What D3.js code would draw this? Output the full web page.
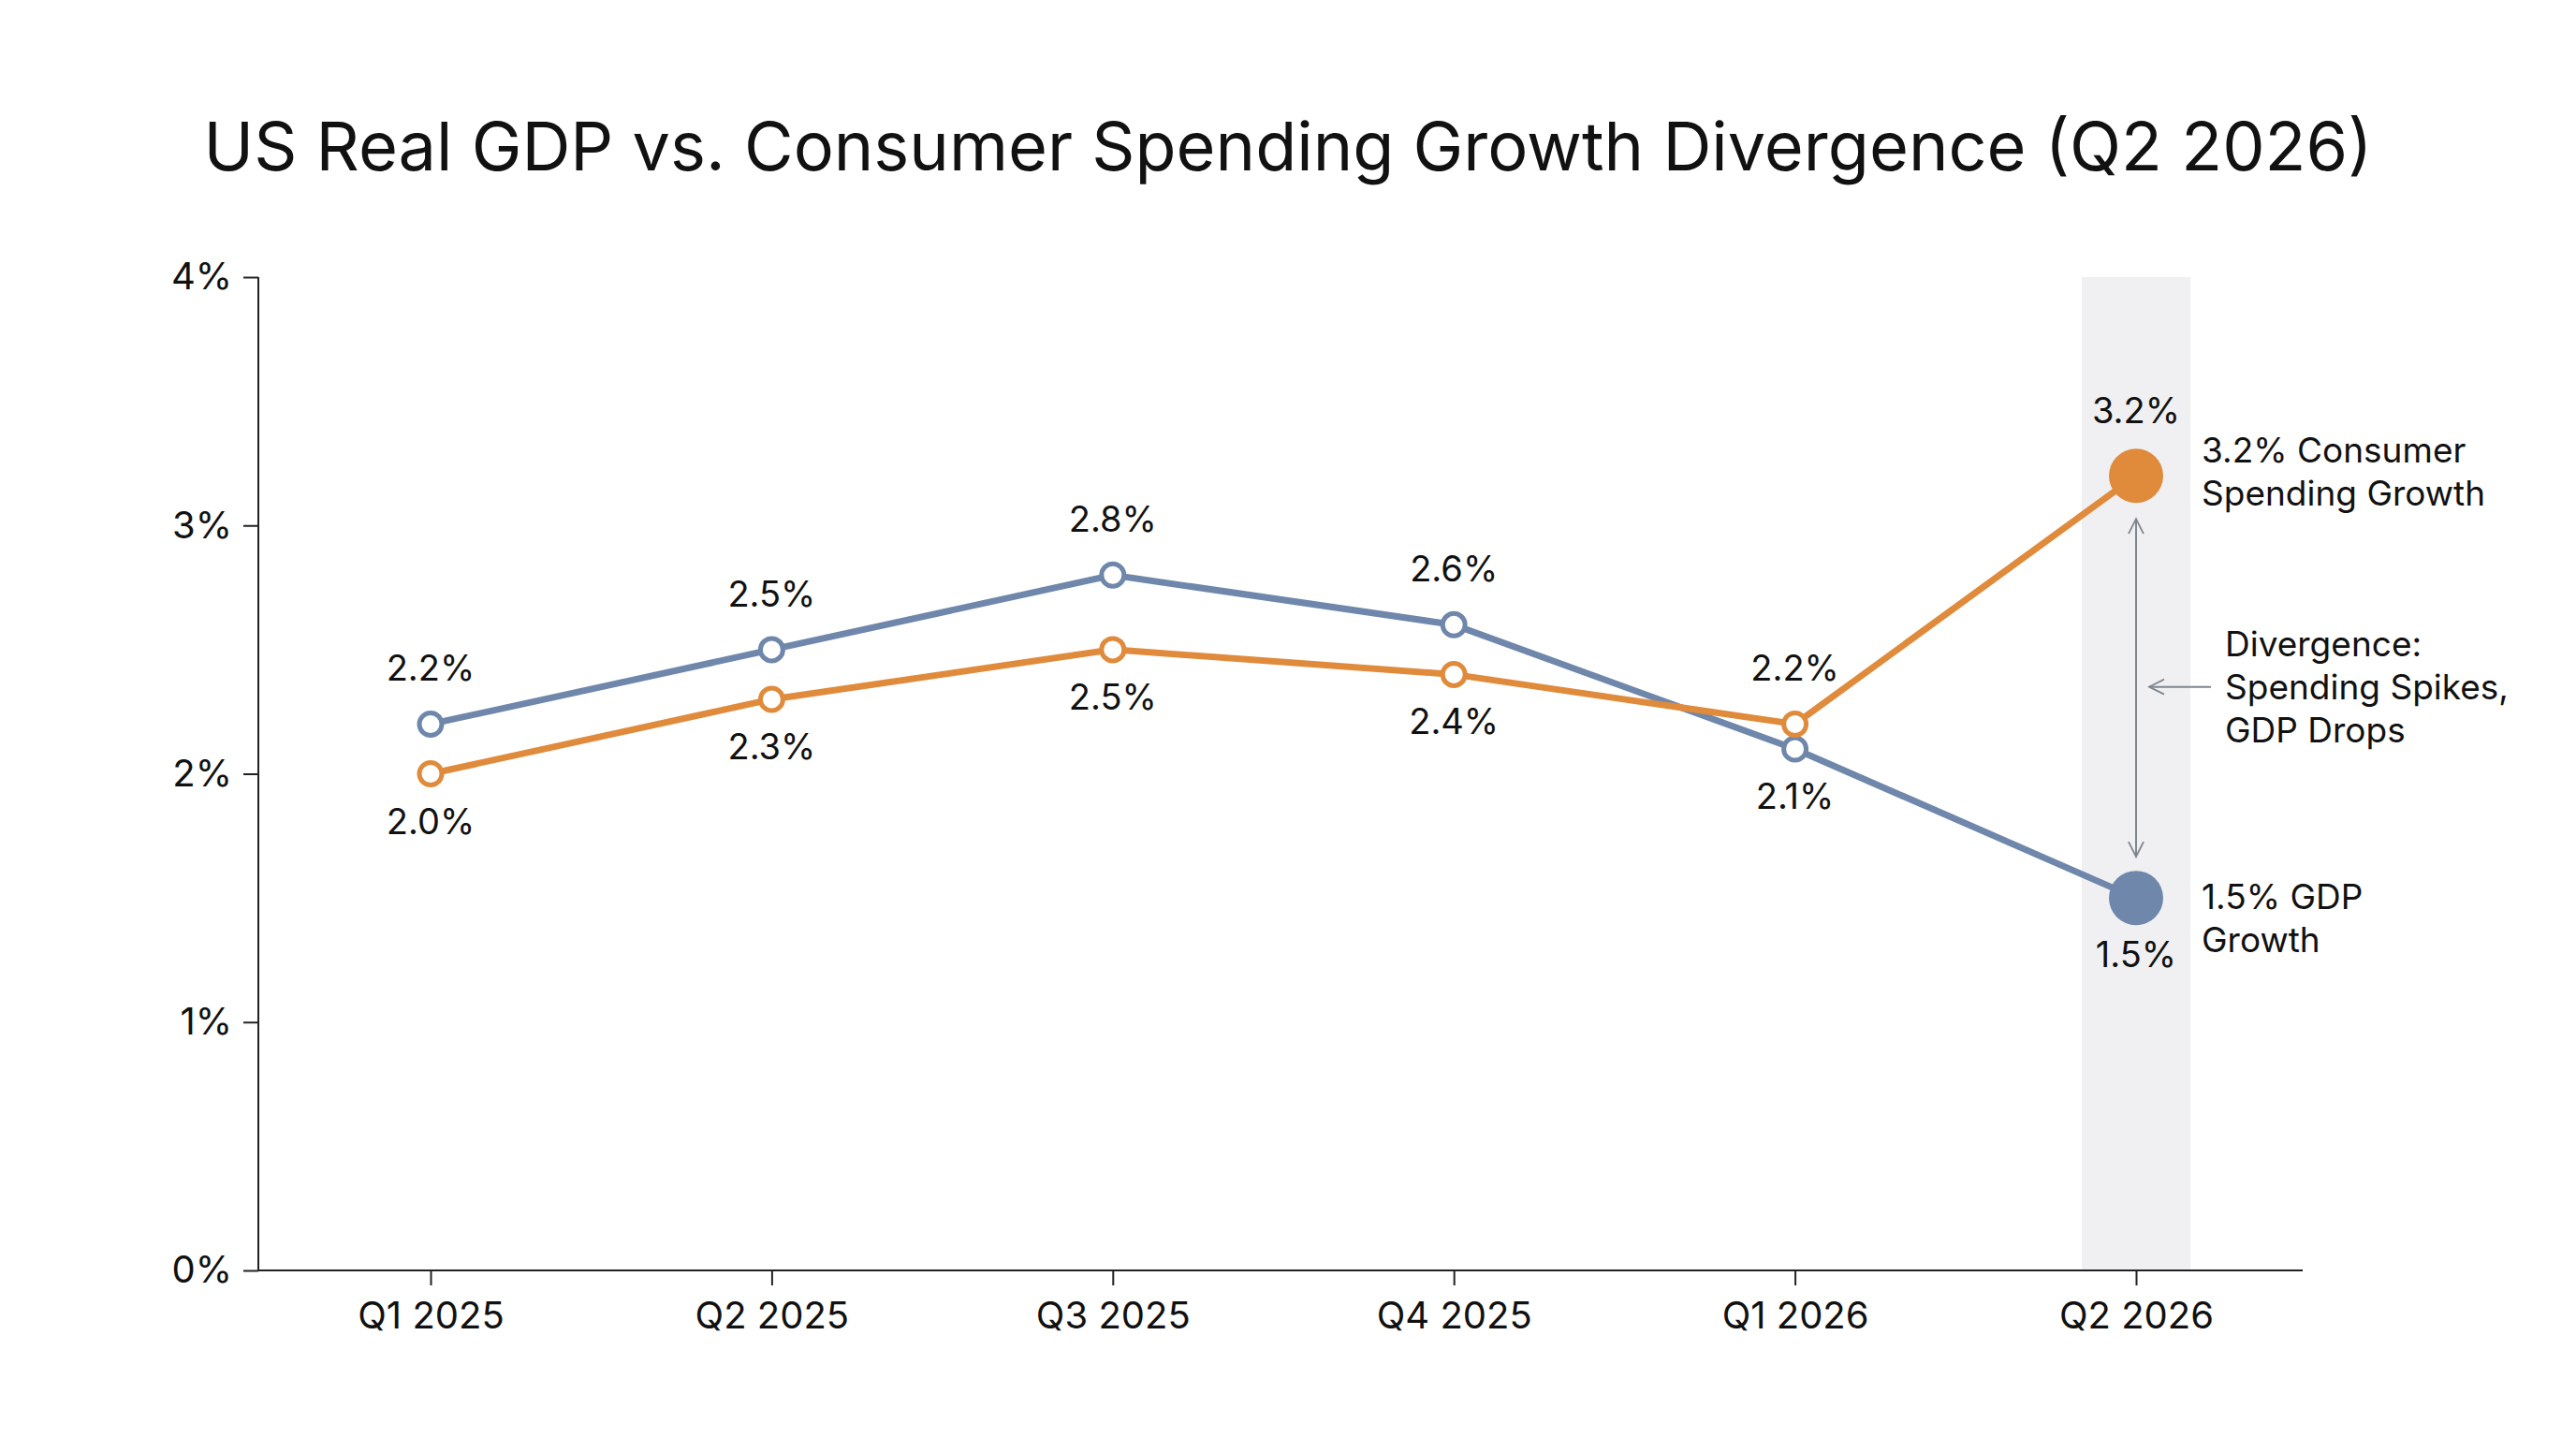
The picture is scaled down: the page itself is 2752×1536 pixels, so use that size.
<!DOCTYPE html>
<html>
<head>
<meta charset="utf-8">
<script src="https://cdn.jsdelivr.net/npm/d3@7"></script>
<style>
  body { margin: 0; background: #fff; }
  svg { font-family: Inter, 'Noto Sans', sans-serif; }
</style>
</head>
<body>
<div id="chart"></div>
<script>
const quarters = ['Q1 2025', 'Q2 2025', 'Q3 2025', 'Q4 2025', 'Q1 2026', 'Q2 2026'];
const gdp = [2.2, 2.5, 2.8, 2.6, 2.1, 1.5];
const spending = [2.0, 2.3, 2.5, 2.4, 2.2, 3.2];
// label above (-1) or below (+1) each point
const gdpLabelSide = [-1, -1, -1, -1, 1, 1];
const spendLabelSide = [1, 1, 1, 1, -1, -1];
const yTicks = [0, 1, 2, 3, 4];

const W = 2752, H = 1536;
const blue = '#6f87ab', orange = '#e08b3c';

const svg = d3.select('#chart').append('svg')
  .attr('width', W).attr('height', H);

svg.append('text')
  .attr('x', 1376).attr('y', 182)
  .attr('text-anchor', 'middle')
  .style('font-size', '72px')
  .attr('fill', '#111')
  .text('US Real GDP vs. Consumer Spending Growth Divergence (Q2 2026)');

const x = d3.scalePoint().domain(quarters).range([460, 2282]);
const y = d3.scaleLinear().domain([0, 4]).range([1357, 296]);
const left = 276, right = 2460;

// highlight band for latest quarter
const last = quarters[quarters.length - 1];
svg.append('rect')
  .attr('x', x(last) - 58).attr('width', 116)
  .attr('y', y(4)).attr('height', y(0) - y(4))
  .attr('fill', '#f0f0f2');

// axes
const yAxis = svg.append('g')
  .attr('transform', `translate(${left},0)`)
  .call(d3.axisLeft(y).tickValues(yTicks).tickFormat(d => d + '%').tickSize(16).tickPadding(12));
yAxis.select('.domain').attr('stroke', '#222').attr('stroke-width', 2).attr('d', `M0,${y(4)}V${y(0)}`);
yAxis.selectAll('.tick line').attr('stroke', '#222').attr('stroke-width', 2);
yAxis.selectAll('text').style('font-size', '40px').attr('fill', '#111').attr('font-family', 'Inter, sans-serif');

const xAxis = svg.append('g')
  .attr('transform', `translate(0,${y(0)})`)
  .call(d3.axisBottom(x).tickSize(16).tickPadding(18));
xAxis.select('.domain').attr('stroke', '#222').attr('stroke-width', 2).attr('d', `M${left},0H${right}`);
xAxis.selectAll('.tick line').attr('stroke', '#222').attr('stroke-width', 2);
xAxis.selectAll('text').style('font-size', '40px').attr('fill', '#111').attr('font-family', 'Inter, sans-serif');

const line = d3.line().x((d, i) => x(quarters[i])).y(d => y(d));

function drawSeries(vals, color, sides) {
  svg.append('path').datum(vals)
    .attr('d', line).attr('fill', 'none')
    .attr('stroke', color).attr('stroke-width', 7);
  const n = vals.length;
  svg.selectAll(null).data(vals.slice(0, n - 1)).enter().append('circle')
    .attr('cx', (d, i) => x(quarters[i])).attr('cy', d => y(d))
    .attr('r', 12).attr('fill', '#fff')
    .attr('stroke', color).attr('stroke-width', 5);
  svg.append('circle')
    .attr('cx', x(quarters[n - 1])).attr('cy', y(vals[n - 1]))
    .attr('r', 29).attr('fill', color);
  svg.selectAll(null).data(vals).enter().append('text')
    .attr('x', (d, i) => x(quarters[i]))
    .attr('y', (d, i) => {
      const off = i === n - 1 ? 48 : 38;
      return y(d) + sides[i] * off + (sides[i] > 0 ? 26 : -8);
    })
    .attr('text-anchor', 'middle')
    .style('font-size', '38px').attr('fill', '#111')
    .text(d => d.toFixed(1) + '%');
}
drawSeries(gdp, blue, gdpLabelSide);
drawSeries(spending, orange, spendLabelSide);

// divergence annotation
const defs = svg.append('defs');
defs.append('marker').attr('id', 'arr')
  .attr('viewBox', '0 0 20 20').attr('refX', 18).attr('refY', 10)
  .attr('markerWidth', 20).attr('markerHeight', 20).attr('markerUnits', 'userSpaceOnUse')
  .attr('orient', 'auto-start-reverse')
  .append('path').attr('d', 'M2,2L18,10L2,18').attr('fill', 'none')
  .attr('stroke', '#808690').attr('stroke-width', 1.8);

const ax = x(last);
svg.append('line')
  .attr('x1', ax).attr('x2', ax)
  .attr('y1', y(3.2) + 46).attr('y2', y(1.5) - 44)
  .attr('stroke', '#808690').attr('stroke-width', 2)
  .attr('marker-start', 'url(#arr)').attr('marker-end', 'url(#arr)');
const midY = (y(3.2) + y(1.5)) / 2;
svg.append('line')
  .attr('x1', ax + 80).attr('x2', ax + 14)
  .attr('y1', midY).attr('y2', midY)
  .attr('stroke', '#808690').attr('stroke-width', 2)
  .attr('marker-end', 'url(#arr)');

function multiline(tx, ty, lines) {
  const t = svg.append('text').attr('x', tx).attr('y', ty)
    .style('font-size', '37px').attr('fill', '#111');
  lines.forEach((l, i) => t.append('tspan').attr('x', tx).attr('dy', i ? 46 : 0).text(l));
}
multiline(ax + 70, y(3.2) - 14, ['3.2% Consumer', 'Spending Growth']);
multiline(ax + 95, midY - 33, ['Divergence:', 'Spending Spikes,', 'GDP Drops']);
multiline(ax + 70, y(1.5) + 12, ['1.5% GDP', 'Growth']);
</script>
</body>
</html>
